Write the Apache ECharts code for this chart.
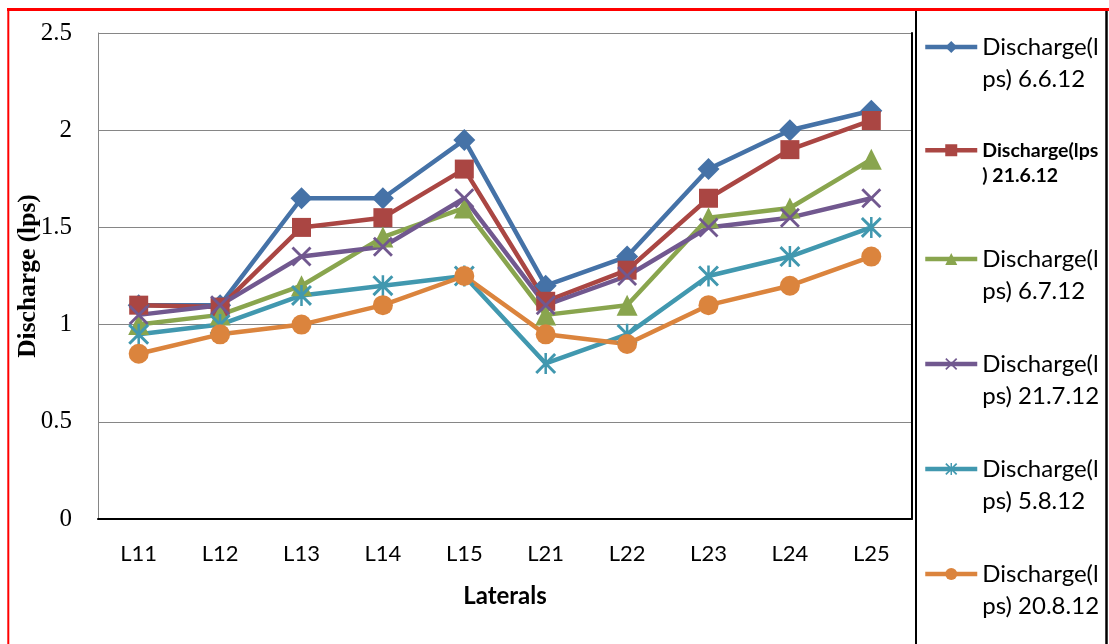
<!DOCTYPE html>
<html>
<head>
<meta charset="utf-8">
<script src="https://cdn.jsdelivr.net/npm/echarts@6/dist/echarts.min.js"></script>
<style>
  html, body { margin: 0; padding: 0; background: #ffffff; }
  #chart { width: 1109px; height: 644px; }
</style>
</head>
<body>
<div id="chart"></div>
<script>
// Lateral names along the x axis
const laterals = ['L11', 'L12', 'L13', 'L14', 'L15', 'L21', 'L22', 'L23', 'L24', 'L25'];

// Series names and how each legend entry wraps
const seriesNames = [
  'Discharge(lps) 6.6.12',
  'Discharge(lps) 21.6.12',
  'Discharge(lps) 6.7.12',
  'Discharge(lps) 21.7.12',
  'Discharge(lps) 5.8.12',
  'Discharge(lps) 20.8.12'
];
const legendLines = [
  ['Discharge(l', 'ps) 6.6.12'],
  ['Discharge(lps', ') 21.6.12'],
  ['Discharge(l', 'ps) 6.7.12'],
  ['Discharge(l', 'ps) 21.7.12'],
  ['Discharge(l', 'ps) 5.8.12'],
  ['Discharge(l', 'ps) 20.8.12']
];

// Discharge (lps) per lateral, one array per measuring date
const q_6_6_12  = [1.10, 1.10, 1.65, 1.65, 1.95, 1.20, 1.35, 1.80, 2.00, 2.10];
const q_21_6_12 = [1.10, 1.09, 1.50, 1.55, 1.80, 1.12, 1.28, 1.65, 1.90, 2.05];
const q_6_7_12  = [1.00, 1.05, 1.20, 1.45, 1.60, 1.05, 1.10, 1.55, 1.60, 1.85];
const q_21_7_12 = [1.05, 1.10, 1.35, 1.40, 1.65, 1.10, 1.25, 1.50, 1.55, 1.65];
const q_5_8_12  = [0.95, 1.00, 1.15, 1.20, 1.25, 0.80, 0.95, 1.25, 1.35, 1.50];
const q_20_8_12 = [0.85, 0.95, 1.00, 1.10, 1.25, 0.95, 0.90, 1.10, 1.20, 1.35];

// Value axis range and step
const yMin = 0;
const yMax = 2.5;
const yStep = 0.5;

const seriesData = [q_6_6_12, q_21_6_12, q_6_7_12, q_21_7_12, q_5_8_12, q_20_8_12];
const colors = ['#4572A7', '#AA4643', '#89A54E', '#71588F', '#4198AF', '#DB843D'];

// Marker shapes: diamond, square, triangle, cross, asterisk, circle
const crossPath = 'path://M0,1 L1,0 L5,4 L9,0 L10,1 L6,5 L10,9 L9,10 L5,6 L1,10 L0,9 L4,5 Z';
const starPath = 'path://M0,1 L1,0 L5,4 L9,0 L10,1 L6,5 L10,9 L9,10 L5,6 L1,10 L0,9 L4,5 Z M4.4,0 L5.6,0 L5.6,10 L4.4,10 Z';
const symbols = ['diamond', 'rect', 'triangle', crossPath, starPath, 'circle'];
const symbolSizes = [22, 19, 21, 20, 21, 20];

const chart = echarts.init(document.getElementById('chart'), null, { renderer: 'canvas' });

const series = seriesNames.map((name, i) => ({
  name: name,
  type: 'line',
  data: seriesData[i],
  xAxisIndex: 0,
  yAxisIndex: 0,
  symbol: symbols[i],
  symbolSize: symbolSizes[i],
  showAllSymbol: true,
  color: colors[i],
  lineStyle: { color: colors[i], width: 4.5 },
  itemStyle: { color: colors[i] },
  emphasis: { disabled: true }
}));

const option = {
  animation: false,
  backgroundColor: '#ffffff',
  grid: { left: 98, right: 197, top: 33, bottom: 125, containLabel: false, outerBoundsMode: 'none' },
  xAxis: [
    {
      type: 'category',
      data: laterals,
      boundaryGap: true,
      axisLine: { lineStyle: { color: '#868686', width: 1 } },
      axisTick: { show: false },
      axisLabel: { fontFamily: 'Lato', fontSize: 22, color: '#000000', margin: 24 },
      splitLine: { show: false },
      name: 'Laterals',
      nameLocation: 'middle',
      nameGap: 65,
      nameTextStyle: { fontFamily: 'Lato', fontWeight: 'bold', fontSize: 24, color: '#000000' }
    },
    {
      type: 'category',
      data: laterals,
      position: 'top',
      axisLine: { lineStyle: { color: '#000000', width: 2 } },
      axisTick: { show: false },
      axisLabel: { show: false },
      splitLine: { show: false }
    }
  ],
  yAxis: [
    {
      type: 'value',
      min: yMin,
      max: yMax,
      interval: yStep,
      axisLine: { show: true, lineStyle: { color: '#868686', width: 1 } },
      axisTick: { show: false },
      splitLine: { show: true, lineStyle: { color: '#868686', width: 1 } },
      axisLabel: { fontFamily: 'Liberation Serif', fontSize: 25, color: '#000000', margin: 26 },
      name: 'Discharge (lps)',
      nameLocation: 'middle',
      nameGap: 57,
      nameMoveOverlap: false,
      nameTextStyle: { fontFamily: 'Liberation Serif', fontWeight: 'bold', fontSize: 25.5, color: '#000000' }
    },
    {
      type: 'value',
      min: yMin,
      max: yMax,
      interval: yStep,
      position: 'right',
      axisLine: { show: true, lineStyle: { color: '#000000', width: 2 } },
      axisTick: { show: false },
      axisLabel: { show: false },
      splitLine: { show: false }
    }
  ],
  legend: {
    orient: 'vertical',
    left: 923,
    top: 10,
    padding: 0,
    itemGap: 24,
    itemWidth: 52,
    itemHeight: 15,
    data: seriesNames,
    lineStyle: { width: 4.5 },
    formatter: function (name) {
      const i = seriesNames.indexOf(name);
      const lines = legendLines[i];
      if (i === 1) {
        return '{g2|\u00a0}\n{b|' + lines[0] + '}\n{b|' + lines[1] + '}\n{g3|\u00a0}';
      }
      return '{g|\u00a0}\n{t|' + lines[0] + '}\n{t|' + lines[1] + '}';
    },
    textStyle: {
      color: '#000000',
      rich: {
        g: { fontSize: 10, lineHeight: 32 },
        t: { fontFamily: 'Lato', fontSize: 24, lineHeight: 32, color: '#000000' },
        g2: { fontSize: 10, lineHeight: 35.5 },
        b: { fontFamily: 'Lato', fontWeight: 'bold', fontSize: 19.5, lineHeight: 25, color: '#000000' },
        g3: { fontSize: 10, lineHeight: 10.5 }
      }
    }
  },
  graphic: [
    { type: 'line', silent: true, z: 10, shape: { x1: 916, y1: 9, x2: 916, y2: 644 }, style: { stroke: '#000000', lineWidth: 2 } },
    { type: 'line', silent: true, z: 10, shape: { x1: 1106.5, y1: 9, x2: 1106.5, y2: 644 }, style: { stroke: '#000000', lineWidth: 2.5 } },
    { type: 'line', silent: true, z: 11, shape: { x1: 7, y1: 9.5, x2: 1109, y2: 9.5 }, style: { stroke: '#ff0000', lineWidth: 3 } },
    { type: 'line', silent: true, z: 11, shape: { x1: 8.3, y1: 8, x2: 8.3, y2: 644 }, style: { stroke: '#ff0000', lineWidth: 2 } }
  ],
  series: series
};

chart.setOption(option);
</script>
</body>
</html>
